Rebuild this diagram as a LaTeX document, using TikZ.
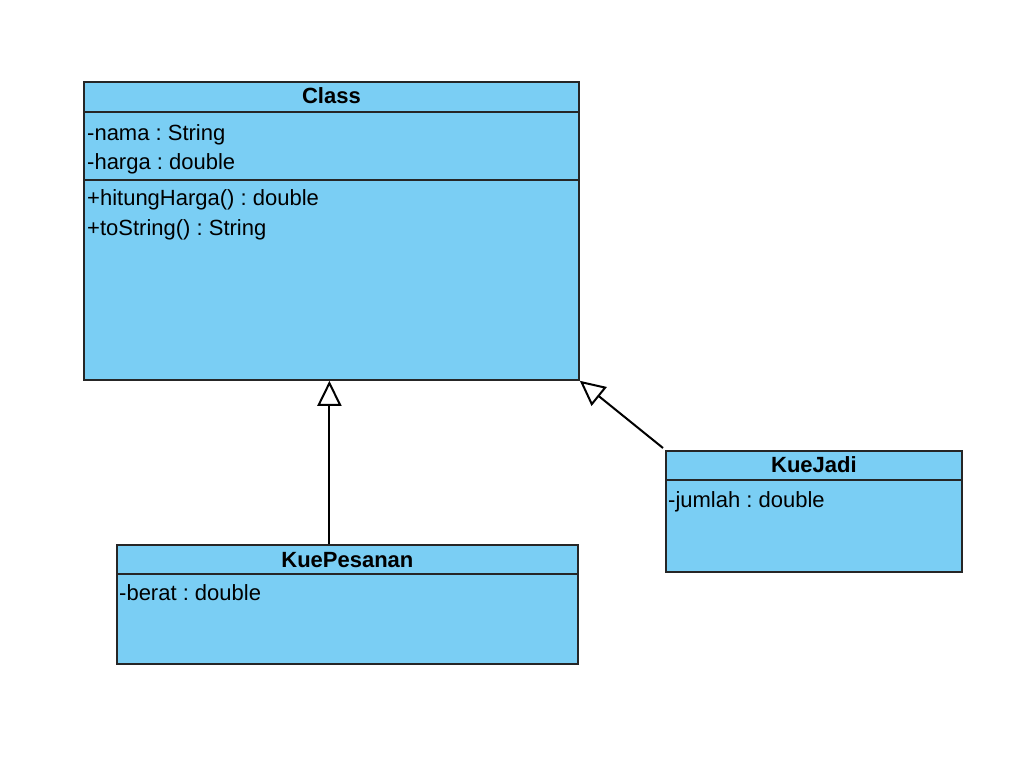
\documentclass[tikz,border=0pt]{standalone}
\usepackage{fontspec}
\setmainfont{Liberation Sans}
\usepackage{xcolor}
\usepackage{tikz}
\usetikzlibrary{arrows.meta}
\definecolor{kueblue}{HTML}{7ACEF4}
\frenchspacing
\newcommand{\umlsize}{\fontsize{22pt}{26pt}\selectfont}
\tikzstyle{classbox} = [draw=black!85, line width=1.8pt, fill=kueblue, inner sep=0pt, anchor=north west]
\tikzstyle{divider} = [draw=black!85, line width=1.8pt]
\tikzstyle{title} = [anchor=base, inner sep=0pt, font=\umlsize\bfseries]
\tikzstyle{member} = [anchor=base west, inner sep=0pt, font=\umlsize]
\tikzstyle{inherit} = [line width=2pt, -{Triangle[open, length=25pt, width=24pt, fill=white]}]

\begin{document}
\begin{tikzpicture}[x=1pt,y=-1pt]
	\useasboundingbox (0,0) rectangle (1020,767);
	
	% Boxes:
	\node [classbox, minimum width=495pt, minimum height=298pt] (class) at (83,81) {};
	\node [classbox, minimum width=296pt, minimum height=121pt] (jadi) at (665,450) {};
	\node [classbox, minimum width=461pt, minimum height=119pt] (pesanan) at (116,544) {};
	
	% Compartments:
	\draw [divider] ([yshift=-31pt]class.north west) -- ([yshift=-31pt]class.north east);
	\draw [divider] ([yshift=-99pt]class.north west) -- ([yshift=-99pt]class.north east);
	\draw [divider] ([yshift=-30pt]jadi.north west) -- ([yshift=-30pt]jadi.north east);
	\draw [divider] ([yshift=-30pt]pesanan.north west) -- ([yshift=-30pt]pesanan.north east);
	
	% Names and members:
	\node [title] (classname) at ([yshift=-23pt]class.north) {Class};
	\node [member] (nama) at ([xshift=4pt,yshift=-60pt]class.north west) {-nama : String};
	\node [member] (harga) at ([xshift=4pt,yshift=-89pt]class.north west) {-harga : double};
	\node [member] (hitung) at ([xshift=4pt,yshift=-125pt]class.north west) {+hitungHarga() : double};
	\node [member] (tostr) at ([xshift=4pt,yshift=-155pt]class.north west) {+toString() : String};
	
	\node [title] (jadiname) at ([yshift=-22pt]jadi.north) {KueJadi};
	\node [member] (jumlah) at ([xshift=3pt,yshift=-57pt]jadi.north west) {-jumlah : double};
	
	\node [title] (pesananname) at ([yshift=-23pt]pesanan.north) {KuePesanan};
	\node [member] (berat) at ([xshift=3pt,yshift=-56pt]pesanan.north west) {-berat : double};
	
	% Generalisations:
	\draw [inherit] ([xshift=-2pt]pesanan.north -| class.south) -- ([xshift=-2pt]class.south);
	\draw [inherit] ([xshift=-2pt,yshift=2pt]jadi.north west) -- (class.south east);
	
\end{tikzpicture}
\end{document}
